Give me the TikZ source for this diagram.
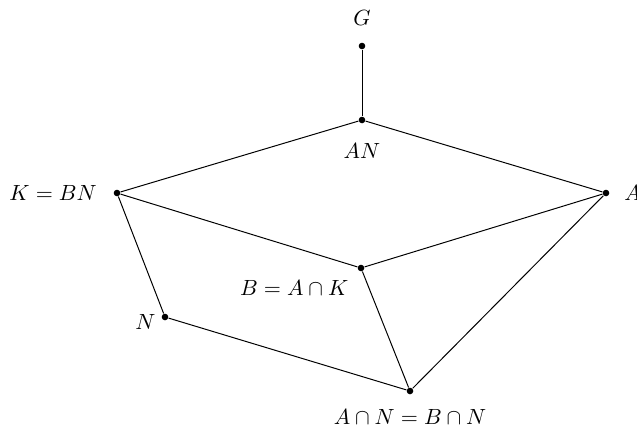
\documentclass[tikz,border=0pt]{standalone}
\usepackage{amsmath,amssymb}
\usepackage{tikz}
\usetikzlibrary{positioning}

\tikzset{
  pt/.style={circle, fill, inner sep=0pt, minimum size=3pt},
  lbl/.style={inner sep=0pt},
  lat/.style={line width=0.45pt}
}

\begin{document}
\begin{tikzpicture}[x=0.455pt, y=-0.455pt]
  \useasboundingbox (0,0) rectangle (637,432);
  % subgroups
  \node[pt] (G) at (362,46) {};
  \node[pt] (AN) at (362,120) {};
  \node[pt] (K) at (117,193) {};
  \node[pt] (A) at (606,193) {};
  \node[pt] (B) at (361,268) {};
  \node[pt] (N) at (165,317) {};
  \node[pt] (AiN) at (410,391) {};
  % names
  \node[lbl, above=7.3pt of G] (Gl) {$G$};
  \node[lbl, below=9pt of AN] (ANl) {$AN$};
  \node[lbl, left=7.3pt of K] (Kl) {$K=BN$};
  \node[lbl, right=6.4pt of A] (Al) {$A$};
  \node[lbl, below left=4.4pt and 4.4pt of B] (Bl) {$B=A\cap K$};
  \node[lbl, below left=-2.5pt and 3pt of N] (Nl) {$N$};
  \node[lbl, below=6.4pt of AiN] (AiNl) {$A\cap N=B\cap N$};
  % inclusions
  \draw[lat] (G) -- (AN);
  \draw[lat] (AN) -- (K);
  \draw[lat] (AN) -- (A);
  \draw[lat] (K) -- (B);
  \draw[lat] (A) -- (B);
  \draw[lat] (K) -- (N);
  \draw[lat] (B) -- (AiN);
  \draw[lat] (N) -- (AiN);
  \draw[lat] (A) -- (AiN);
\end{tikzpicture}
\end{document}
